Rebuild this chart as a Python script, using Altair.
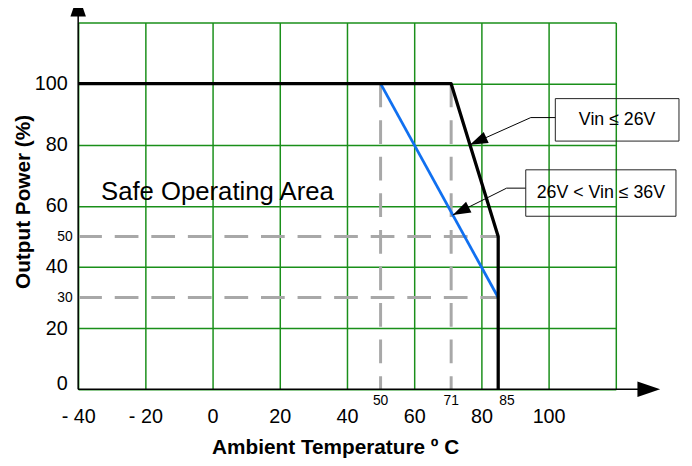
import math
import altair as alt
import pandas as pd

# ---------------- data ----------------
x_ticks = [-40, -20, 0, 20, 40, 60, 80, 100, 120]
y_ticks = [0, 20, 30, 40, 50, 60, 80, 100, 120]

low_temp = [-40, 71, 85, 85]      # Vin <= 26V curve
low_power = [100, 100, 50, 0]
high_temp = [50, 85]              # 26V < Vin <= 36V curve
high_power = [100, 30]

ref_temp_v = [50, 71]             # vertical dashed guides
ref_power_h = [50, 30]            # horizontal dashed guides
ref_labels_c = [50, 71]           # small x labels centred
ref_labels_l = [85]               # small x label left aligned

safe_text = ["Safe Operating Area"]
safe_x = [-33.2]
safe_y = [61.8]

box_labels = ["Vin ≤ 26V", "26V < Vin ≤ 36V"]
box_x1 = [102.0, 93.2]
box_x2 = [138.8, 137.9]
box_y1 = [81.2, 56.6]
box_y2 = [95.1, 71.8]
leader_y = [88.9, 65.8]
elbow_x = [94.7, 87.5]
tip_x = [76.6, 71.5]
tip_y = [80.0, 57.0]

x_arrow_tip = [133.2]
y_arrow_tip = [129.4]

# ---------------- layout / style ----------------
W, H = 544, 371
X_DOM = [-40, 120]
Y_DOM = [0, 120]
PX_X = W / (X_DOM[1] - X_DOM[0])
PX_Y = H / (Y_DOM[1] - Y_DOM[0])
GREEN = "#1a8f1a"
FONT = "Liberation Sans"
ARROW = "M0,0L-2,-0.68L-2,0.68Z"

XS = alt.Scale(domain=X_DOM, nice=False, zero=False)
YS = alt.Scale(domain=Y_DOM, nice=False, zero=False)

small = "datum.value == 30 || datum.value == 50"

x_axis = alt.Axis(
    values=x_ticks, grid=True, gridColor=GREEN, gridWidth=1.5,
    domain=False, ticks=False,
    labelExpr="datum.value >= 120 ? '' : (datum.value < 0 ? '- ' + abs(datum.value) : '' + datum.value)",
    labelFont=FONT, labelFontSize=20, labelColor="black", labelPadding=18,
    labelFlush=False, labelOverlap=False,
    title="Ambient Temperature  º C", titleFont=FONT, titleFontSize=21,
    titleFontWeight="bold", titleColor="black",
    titleX=260, titleY=59, titleAlign="center", titleBaseline="middle",
)
y_axis = alt.Axis(
    values=y_ticks, grid=True, gridColor=GREEN, gridWidth=1.5,
    gridOpacity={"condition": {"test": small, "value": 0}, "value": 1},
    domain=False, ticks=False,
    labelExpr="datum.value >= 120 ? '' : datum.label",
    labelFont=FONT, labelColor="black",
    labelFontSize={"condition": {"test": small, "value": 14}, "value": 20},
    labelPadding={"condition": {"test": small, "value": 6}, "value": 11},
    labelOffset={"condition": {"test": "datum.value == 0", "value": -6}, "value": 0},
    labelFlush=False, labelOverlap=False,
    title="Output Power (%)", titleFont=FONT, titleFontSize=21,
    titleFontWeight="bold", titleColor="black",
    titleX=-55, titleY=181, titleAngle=270, titleAlign="center", titleBaseline="middle",
)

# ---------------- tables ----------------
tick_df = pd.DataFrame({"x": x_ticks, "y": y_ticks})

dash_df = pd.DataFrame({
    "x": ref_temp_v + [X_DOM[0]] * len(ref_power_h),
    "x2": ref_temp_v + [max(low_temp)] * len(ref_power_h),
    "y": [max(low_power)] * len(ref_temp_v) + ref_power_h,
    "y2": [0] * len(ref_temp_v) + ref_power_h,
})
low_df = pd.DataFrame({"x": low_temp, "y": low_power, "i": range(len(low_temp))})
high_df = pd.DataFrame({"x": high_temp, "y": high_power, "i": range(len(high_temp))})

lead_rows = []
for g in range(len(box_labels)):
    pts = [(box_x1[g], leader_y[g]), (elbow_x[g], leader_y[g]), (tip_x[g], tip_y[g])]
    for j, (px, py) in enumerate(pts):
        lead_rows.append({"g": g, "i": j, "x": px, "y": py})
lead_df = pd.DataFrame(lead_rows)

head_rows = []
for g in range(len(box_labels)):
    dx = (tip_x[g] - elbow_x[g]) * PX_X
    dy = -(tip_y[g] - leader_y[g]) * PX_Y
    ang = math.degrees(math.atan2(dy, dx)) % 360
    head_rows.append({"x": tip_x[g], "y": tip_y[g], "ang": ang})
head_df = pd.DataFrame(head_rows)

box_df = pd.DataFrame({
    "label": box_labels, "x": box_x1, "x2": box_x2, "y": box_y1, "y2": box_y2,
    "cx": [(a + b) / 2 for a, b in zip(box_x1, box_x2)],
    "cy": [(a + b) / 2 for a, b in zip(box_y1, box_y2)],
})

axis_arrow_df = pd.DataFrame({
    "x": x_arrow_tip + [X_DOM[0]],
    "y": [0] + y_arrow_tip,
    "ang": [0, 270],
})
axis_line_df = pd.DataFrame({
    "x": [X_DOM[0], X_DOM[0]],
    "x2": [x_arrow_tip[0] - 20 / PX_X, X_DOM[0]],
    "y": [0, 0],
    "y2": [0, y_arrow_tip[0] - 20 / PX_Y],
})

X = lambda f: alt.X(f, scale=XS)
Y = lambda f: alt.Y(f, scale=YS)

# ---------------- layers ----------------
# invisible layer that carries the axes and grid
axes_layer = alt.Chart(tick_df).mark_point(opacity=0).encode(
    x=alt.X("x:Q", scale=XS, axis=x_axis),
    y=alt.Y("y:Q", scale=YS, axis=y_axis),
)

dashes = alt.Chart(dash_df).mark_rule(
    color="#a8a8a8", strokeWidth=3, strokeDash=[24, 13]
).encode(x=X("x:Q"), x2="x2:Q", y=Y("y:Q"), y2="y2:Q")

blue = alt.Chart(high_df).mark_line(color="#1070f0", strokeWidth=2.8).encode(
    x=X("x:Q"), y=Y("y:Q"), order="i:Q",
)
black = alt.Chart(low_df).mark_line(color="black", strokeWidth=3.3, strokeJoin="round").encode(
    x=X("x:Q"), y=Y("y:Q"), order="i:Q",
)

leaders = alt.Chart(lead_df).mark_line(color="black", strokeWidth=1).encode(
    x=X("x:Q"), y=Y("y:Q"), detail="g:N", order="i:Q",
)
heads = alt.Chart(head_df).mark_point(
    shape=ARROW, filled=True, color="black", opacity=1, size=324, strokeWidth=0
).encode(x=X("x:Q"), y=Y("y:Q"), angle=alt.Angle("ang:Q", scale=None))

boxes = alt.Chart(box_df).mark_rect(
    fillOpacity=0, stroke="#222222", strokeWidth=1
).encode(x=X("x:Q"), x2="x2:Q", y=Y("y:Q"), y2="y2:Q")
box_text = alt.Chart(box_df).mark_text(
    font=FONT, fontSize=18, color="black", align="center", baseline="middle"
).encode(x=X("cx:Q"), y=Y("cy:Q"), text="label:N")

safe = alt.Chart(pd.DataFrame({"t": safe_text, "x": safe_x, "y": safe_y})).mark_text(
    font=FONT, fontSize=26, color="black", align="left", baseline="alphabetic"
).encode(x=X("x:Q"), y=Y("y:Q"), text="t:N")

small_c = alt.Chart(pd.DataFrame({"x": ref_labels_c, "y": [0] * len(ref_labels_c)})).mark_text(
    font=FONT, fontSize=14, color="black", align="center", baseline="middle", dy=12
).encode(x=X("x:Q"), y=Y("y:Q"), text="x:Q")
small_l = alt.Chart(pd.DataFrame({"x": ref_labels_l, "y": [0] * len(ref_labels_l)})).mark_text(
    font=FONT, fontSize=14, color="black", align="left", baseline="middle", dy=12, dx=1
).encode(x=X("x:Q"), y=Y("y:Q"), text="x:Q")

axis_lines = alt.Chart(axis_line_df).mark_rule(color="black", strokeWidth=1.5).encode(
    x=X("x:Q"), x2="x2:Q", y=Y("y:Q"), y2="y2:Q",
)
axis_arrows = alt.Chart(axis_arrow_df).mark_point(
    shape=ARROW, filled=True, color="black", opacity=1, size=529, strokeWidth=0
).encode(x=X("x:Q"), y=Y("y:Q"), angle=alt.Angle("ang:Q", scale=None))

chart = alt.layer(
    axes_layer, dashes, blue, black, leaders, heads, boxes, box_text, safe,
    small_c, small_l, axis_lines, axis_arrows,
).properties(
    width=W, height=H,
    padding={"left": 71, "top": 12, "right": 69, "bottom": 75},
    autosize=alt.AutoSizeParams(type="none"),
    background="white",
).configure_view(strokeWidth=0)

chart.save("out.html", embed_options={"renderer": "svg", "actions": False})
